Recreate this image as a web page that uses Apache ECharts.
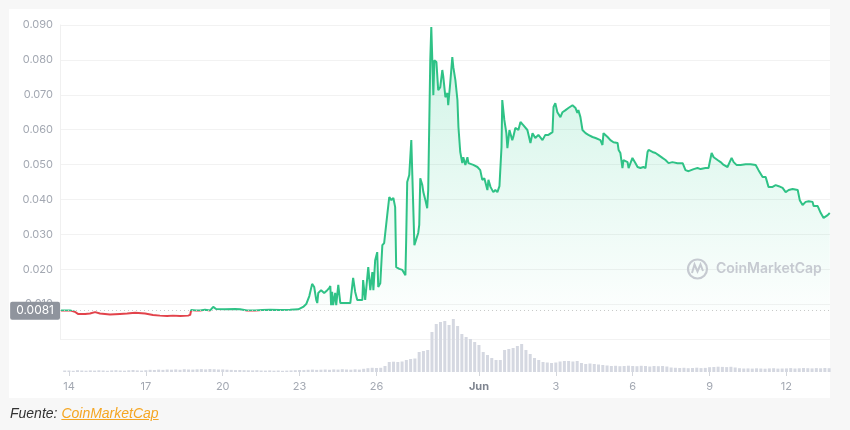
<!DOCTYPE html>
<html><head><meta charset="utf-8">
<script src="https://cdn.jsdelivr.net/npm/echarts@6/dist/echarts.min.js"></script>
<style>
html,body{margin:0;padding:0;background:#f7f7f7;}
#chart{position:absolute;left:0;top:0;width:850px;height:430px;}
#src{position:absolute;left:10px;top:405px;font:italic 14px 'Liberation Sans',Arial,sans-serif;color:#333;line-height:16px;}
#src span{color:#f5a623;text-decoration:underline;}
</style></head><body>
<div id="chart"></div>
<div id="src">Fuente: <span>CoinMarketCap</span></div>
<script>
// x values are days counted from 14 (first tick)
const tickDays = [0, 3, 6, 9, 12, 16, 19, 22, 25, 28];
const tickLabels = ['14', '17', '20', '23', '26', 'Jun', '3', '6', '9', '12'];
const baseline = 0.0081;
const baseLabel = '0.0081';

const priceDays = [
-0.31,0.04,0.23,0.35,0.63,0.82,1.02,1.21,1.60,1.99,2.27,2.58,2.97,3.28,3.55,3.83,4.06,4.34,4.65,4.73,
4.77,4.96,5.12,5.31,5.51,5.63,5.74,6.09,6.48,6.68,6.95,7.27,7.54,7.85,8.24,8.63,8.95,
9.02,9.14,9.26,9.38,9.49,9.57,9.65,9.69,9.73,9.84,9.96,10.08,10.16,10.20,10.23,10.27,10.31,10.39,10.43,10.51,10.59,10.78,10.98,
11.09,11.17,11.25,11.45,11.48,11.56,11.68,11.76,11.84,11.88,11.95,12.03,12.07,12.15,12.23,12.30,12.42,12.50,12.58,12.66,12.73,12.77,12.89,
13.01,13.13,13.16,13.20,13.28,13.36,13.40,13.48,13.55,13.63,13.67,13.71,13.79,13.83,13.91,13.98,14.02,14.10,
14.14,14.18,14.22,14.26,14.34,14.41,14.49,14.57,14.61,14.69,14.77,14.80,14.88,14.96,15.00,15.08,15.16,15.20,15.27,15.35,15.39,15.47,15.55,15.59,15.66,15.78,15.94,
16.05,16.13,16.21,16.33,16.37,16.45,16.56,16.64,16.72,16.80,16.88,16.91,16.99,17.07,17.11,17.19,17.30,17.34,17.42,17.54,17.62,17.73,17.89,
18.01,18.09,18.20,18.32,18.48,18.59,18.71,18.87,18.91,18.98,19.06,19.18,19.26,19.38,19.49,19.65,19.77,19.84,19.88,19.96,
20.04,20.16,20.27,20.43,20.55,20.74,20.82,20.86,21.02,21.13,21.25,21.41,21.45,21.52,21.60,21.64,21.80,21.84,21.99,
22.11,22.19,22.30,22.42,22.50,22.58,22.62,22.77,22.89,23.01,23.16,23.28,23.40,23.55,23.75,23.95,
24.06,24.18,24.38,24.53,24.65,24.84,24.96,25.08,25.16,25.31,25.43,25.55,25.70,25.86,25.94,
26.05,26.21,26.41,26.60,26.80,26.91,27.07,27.19,27.30,27.46,27.58,27.70,27.85,27.97,
28.09,28.24,28.44,28.52,28.63,28.75,28.87,29.02,29.06,29.22,29.34,29.45,29.61,29.69
];
const priceVals = [
0.0082,0.0082,0.0078,0.0072,0.0072,0.0073,0.0077,0.0073,0.0070,0.0072,0.0073,0.0075,0.0073,0.0069,0.0067,0.0066,0.0067,0.0066,0.0067,0.0069,
0.0083,0.0082,0.0082,0.0084,0.0082,0.0092,0.0086,0.0085,0.0086,0.0085,0.0082,0.0082,0.0083,0.0084,0.0083,0.0084,0.0085,
0.0086,0.0092,0.0100,0.0123,0.0158,0.0149,0.0112,0.0103,0.0132,0.0140,0.0132,0.0140,0.0146,0.0152,0.0097,0.0135,0.0097,0.0132,0.0097,0.0155,0.0103,0.0103,0.0103,
0.0175,0.0135,0.0112,0.0112,0.0169,0.0112,0.0206,0.0140,0.0192,0.0140,0.0226,0.0249,0.0149,0.0160,0.0269,0.0275,0.0355,0.0407,0.0398,0.0404,0.0378,0.0206,0.0201,
0.0198,0.0183,0.0284,0.0450,0.0470,0.0570,0.0470,0.0269,0.0264,0.0304,0.0327,0.0461,0.0441,0.0421,0.0398,0.0375,0.0427,0.0799,
0.0894,0.0799,0.0699,0.0799,0.0794,0.0713,0.0722,0.0771,0.0751,0.0693,0.0705,0.0670,0.0734,0.0808,0.0779,0.0742,0.0685,0.0607,0.0536,0.0504,0.0521,0.0499,0.0521,0.0504,0.0507,0.0499,0.0493,
0.0484,0.0456,0.0461,0.0427,0.0456,0.0436,0.0421,0.0427,0.0421,0.0438,0.0550,0.0685,0.0628,0.0590,0.0547,0.0599,0.0570,0.0579,0.0605,0.0599,0.0622,0.0613,0.0599,
0.0562,0.0590,0.0576,0.0585,0.0570,0.0585,0.0585,0.0593,0.0665,0.0676,0.0650,0.0636,0.0650,0.0656,0.0662,0.0670,0.0662,0.0648,0.0656,0.0636,
0.0599,0.0590,0.0585,0.0579,0.0576,0.0570,0.0556,0.0590,0.0579,0.0570,0.0564,0.0562,0.0542,0.0533,0.0490,0.0513,0.0507,0.0490,0.0519,
0.0504,0.0493,0.0490,0.0493,0.0490,0.0536,0.0542,0.0536,0.0533,0.0527,0.0519,0.0513,0.0504,0.0507,0.0504,0.0504,
0.0484,0.0481,0.0487,0.0490,0.0487,0.0490,0.0490,0.0533,0.0521,0.0513,0.0507,0.0499,0.0493,0.0519,0.0507,
0.0499,0.0499,0.0501,0.0501,0.0499,0.0484,0.0464,0.0464,0.0436,0.0436,0.0441,0.0438,0.0433,0.0421,
0.0427,0.0430,0.0427,0.0398,0.0384,0.0393,0.0395,0.0393,0.0381,0.0381,0.0361,0.0347,0.0355,0.0361
];

// volume, one bar every 4 hours starting at day -1/6
const volumeVals = [
1.5,
1.5,1.2,1.8,1.5,1.3,1.6,
1.4,1.7,1.5,1.2,1.6,1.8,
1.5,1.3,1.7,2.0,1.6,1.4,
1.8,2.2,2.0,2.4,2.1,2.5,
2.3,2.6,2.2,2.8,2.5,2.4,
2.7,2.9,2.6,3.0,2.8,2.5,
2.6,2.3,2.1,1.9,2.0,1.8,
1.7,1.6,1.8,1.5,1.4,1.6,
1.3,1.5,1.2,1.4,1.6,1.8,
2.0,1.9,2.2,2.4,2.1,2.3,
2.5,2.2,2.6,2.4,2.8,2.5,
2.3,2.7,2.4,3.2,3.8,4.2,
4.0,4.2,6.0,10.0,10.3,10.0,
10.5,12,13,13.5,20,21,
22,40,48,50,51,47,
53,46,38,35,33,30,
27,20,17,14,12,12,
22,23,24,26,28,22,
18,14,12,10,9.5,9,
9.5,10.5,11,11,10.5,11,
9,8,8.5,8,7.5,7,
6.5,6,6.2,5.8,6,6.3,
6,5.8,6.2,6,5.5,6,
5.8,6,5.5,4.5,4.2,4,
4.2,3.8,4,4.3,3.9,4.1,
4.8,5,5.3,5.1,4.9,5.2,
4.5,3.8,3.5,3.6,3.4,3.7,
3.5,3.3,3.6,3.8,3.4,3.5,
3.6,3.9,3.5,3.7,4,3.8,
3.6,3.9,3.7,4.0,3.8
];

const GREEN = '#2fc286';
const RED = '#e2434b';
const xMin = -0.35, xMax = 29.7;

const priceData = priceDays.map((d, i) => [d, priceVals[i]]);
const volumeData = volumeVals.map((v, i) => [(i - 1) / 6, v]);

const chart = echarts.init(document.getElementById('chart'), null, {renderer: 'canvas'});
const wmColor = '#c6cad1';
chart.setOption({
  animation: false,
  backgroundColor: 'transparent',
  textStyle: {fontFamily: 'Inter, Roboto, sans-serif'},
  graphic: [
    {type: 'rect', z: -10, silent: true, shape: {x: 9, y: 9, width: 821, height: 389}, style: {fill: '#ffffff'}},
    {type: 'circle', z: 5, silent: true, shape: {cx: 697.5, cy: 269, r: 9.5}, style: {fill: 'none', stroke: wmColor, lineWidth: 2.2}},
    {type: 'polyline', z: 5, silent: true, shape: {points: [[692, 273], [694.5, 264.5], [697.5, 271.5], [700.5, 264.5], [703, 271]]}, style: {fill: 'none', stroke: wmColor, lineWidth: 2}},
    {type: 'text', z: 5, silent: true, x: 716, y: 269, style: {text: 'CoinMarketCap', fill: wmColor, font: '600 14px Inter, sans-serif', verticalAlign: 'middle'}}
  ],
  visualMap: {
    type: 'piecewise', show: false, seriesIndex: 0, dimension: 1,
    pieces: [{gt: baseline, lte: 1, color: GREEN}, {gte: 0, lte: baseline, color: RED}]
  },
  grid: [
    {left: 60, right: 20, top: 25, bottom: 91},
    {left: 60, right: 20, top: 318, bottom: 58}
  ],
  xAxis: [
    {type: 'value', gridIndex: 0, min: xMin, max: xMax, show: false},
    {type: 'value', gridIndex: 1, min: xMin, max: xMax,
      axisLine: {show: false}, splitLine: {show: false},
      axisTick: {show: true, customValues: tickDays, length: 4, lineStyle: {color: '#d3d6dc'}},
      axisLabel: {
        customValues: tickDays, color: '#a3a8b2', fontSize: 11, margin: 9,
        formatter: v => { const i = tickDays.indexOf(v); if (i < 0) return ''; const t = tickLabels[i]; return t === 'Jun' ? '{b|' + t + '}' : t; },
        rich: {b: {fontWeight: 'bold', color: '#7f8590', fontSize: 11}}
      }
    }
  ],
  yAxis: [
    {type: 'value', gridIndex: 0, min: 0, max: 0.09, interval: 0.01,
      axisLine: {show: true, onZero: false, lineStyle: {color: '#f0f0f0'}}, axisTick: {show: false},
      splitLine: {lineStyle: {color: '#f2f2f2'}},
      axisLabel: {formatter: v => v === 0 ? '' : v.toFixed(3), color: '#a3a8b2', fontSize: 11, margin: 7}
    },
    {type: 'value', gridIndex: 1, min: 0, max: 54, show: false}
  ],
  series: [
    {
      type: 'line', xAxisIndex: 0, yAxisIndex: 0, data: priceData, showSymbol: false, symbol: 'none',
      lineStyle: {width: 2},
      areaStyle: {origin: baseline, color: {type: 'linear', x: 0, y: 0, x2: 0, y2: 1, colorStops: [
        {offset: 0, color: 'rgba(22,199,132,0.30)'}, {offset: 1, color: 'rgba(22,199,132,0.01)'}]}},
      markLine: {
        silent: true, symbol: 'none', precision: 6, data: [{yAxis: baseline}],
        lineStyle: {color: '#c9c9c9', type: [1, 3], width: 1},
        label: {position: 'start', formatter: baseLabel, color: '#ffffff', backgroundColor: '#8f949d',
          padding: [3, 6, 3, 6], fontSize: 12, distance: 0, borderRadius: 2}
      },
      z: 3
    },
    {
      type: 'bar', xAxisIndex: 1, yAxisIndex: 1, data: volumeData, barWidth: 3,
      itemStyle: {color: '#d5d8e1'}, silent: true
    }
  ]
});
</script></body></html>
